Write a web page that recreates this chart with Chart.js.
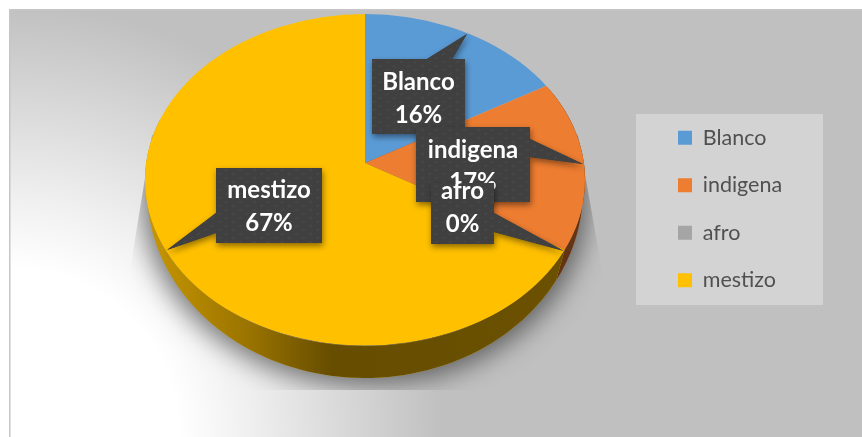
<!DOCTYPE html>
<html><head><meta charset="utf-8">
<style>html,body{margin:0;padding:0;background:#fff}canvas{display:block}</style>
<script src="https://cdn.jsdelivr.net/npm/chart.js@4"></script>
</head><body><canvas id="c" width="862" height="437"></canvas>
<script>
const categories = ['Blanco','indigena','afro','mestizo'];
const values = [16,17,0,67];
const colors = ['#5B9BD5','#ED7D31','#A5A5A5','#FFC000'];

// Layout of the tilted pie, in canvas pixels
const CX = 365, APEX_Y = 163, TOP_CY = 180, RX = 220, RY = 166;
const LOW_CY = 190, LOW_RX = 218, LOW_RY = 188;
const UPPER = {sx:1.05, sy:0.705}, LOWER = {sx:1.05, sy:0.83};
// Callout boxes: x,y,w,h, text baselines l1,l2 and the tail: base point a, tip, base point b
const callouts = [
 {x:372,y:59,w:93,h:75,l1:90,l2:123,a:[427,59],t:[467,34],b:[452,59]},
 {x:416,y:127,w:114,h:75,l1:158,l2:190,a:[530,139],t:[583,164],b:[530,157]},
 {x:431,y:183,w:63,h:61,l1:199,l2:232,a:[494,213],t:[564,251],b:[494,232]},
 {x:216,y:168,w:106,h:75,l1:198,l2:231,a:[216,213],t:[167,250],b:[216,233]}
];

function dots(){
  const p=document.createElement('canvas');p.width=14;p.height=8;
  const g=p.getContext('2d');g.fillStyle='#404040';g.fillRect(0,0,14,8);
  g.strokeStyle='#4c4c4c';g.lineWidth=1;
  g.beginPath();g.moveTo(1,3);g.lineTo(4,1);g.moveTo(8,7);g.lineTo(11,5);g.stroke();
  return p;
}
function rimPoint(a){
  const s=Math.sin(a), c=Math.cos(a), k=s<0?UPPER:LOWER;
  const dx=RX*k.sx*c, dy=RX*k.sy*s;
  const oy=APEX_Y-TOP_CY;
  const A=dx*dx/(RX*RX)+dy*dy/(RY*RY), B=2*dy*oy/(RY*RY), C=oy*oy/(RY*RY)-1;
  const t=(-B+Math.sqrt(B*B-4*A*C))/(2*A);
  return [CX+dx*t, APEX_Y+dy*t];
}
const tilt = {
  id:'tilt',
  beforeDraw(chart){
    const ctx=chart.ctx, W=chart.width, H=chart.height;
    ctx.save();
    ctx.fillStyle='#fff';ctx.fillRect(0,0,W,H);
    const g=ctx.createRadialGradient(10,437,0,10,437,432);
    g.addColorStop(0,'#fff');g.addColorStop(.39,'#fff');g.addColorStop(.56,'#efefef');g.addColorStop(1,'#c0c0c0');
    ctx.fillStyle=g;ctx.fillRect(10,10,W-10,H-10);
    ctx.fillStyle='#c6c6c6';ctx.fillRect(9,9,W-9,1.5);ctx.fillRect(9,9,1.5,H-9);
    ctx.fillStyle='rgba(217,217,217,.75)';ctx.fillRect(636,114,187,191);
    ctx.restore();
  },
  afterLayout(chart){
    const l=chart.legend;
    const w=l.width;
    l.left=652;l.right=652+w;l.top=101;l.bottom=101+l.height;
  },
  beforeDatasetDraw(chart,args){
    const ctx=chart.ctx, meta=args.meta, first=meta.data[0];
    const cx=first.x, cy=first.y;
    // cast shadow only: the caster itself sits off the canvas
    ctx.save();
    ctx.beginPath();
    ctx.moveTo(152,135);ctx.lineTo(130,270);ctx.lineTo(130,390);ctx.lineTo(602,390);ctx.lineTo(602,270);ctx.lineTo(578,135);
    ctx.closePath();ctx.clip();
    ctx.shadowColor='rgba(0,0,0,.5)';ctx.shadowBlur=26;ctx.shadowOffsetX=2000;ctx.shadowOffsetY=4;
    ctx.fillStyle='#000';
    ctx.beginPath();ctx.ellipse(CX-2000,197,222,184,0,0,Math.PI*2);ctx.fill();
    ctx.restore();
    // side wall of each slice
    const lo=-Math.PI/5.5, hi=Math.PI*1.1;
    meta.data.forEach((el,i)=>{
      const a0=Math.max(el.startAngle,lo), a1=Math.min(el.endAngle,hi);
      if(a1<=a0) return;
      const n=80, pts=[];
      for(let j=0;j<=n;j++) pts.push(rimPoint(a0+(a1-a0)*j/n));
      for(let j=n;j>=0;j--){const a=a0+(a1-a0)*j/n;pts.push([CX+LOW_RX*Math.cos(a),LOW_CY+LOW_RY*Math.sin(a)]);}
      const path=()=>{ctx.beginPath();pts.forEach((p,k)=>k?ctx.lineTo(p[0],p[1]):ctx.moveTo(p[0],p[1]));ctx.closePath();};
      ctx.save();
      ctx.fillStyle=colors[i];path();ctx.fill();
      const g=ctx.createLinearGradient(147,0,585,0);
      g.addColorStop(0,'rgba(0,0,0,.22)');g.addColorStop(.235,'rgba(0,0,0,.4)');
      g.addColorStop(.42,'rgba(0,0,0,.6)');g.addColorStop(1,'rgba(0,0,0,.58)');
      ctx.fillStyle=g;path();ctx.fill();
      ctx.restore();
    });
    // top face: upper and lower halves, both cut to the true rim
    [[UPPER,0,APEX_Y+.5],[LOWER,APEX_Y-.5,437]].forEach(([k,y0,y1])=>{
      ctx.save();
      ctx.beginPath();ctx.rect(0,y0,862,y1-y0);ctx.clip();
      ctx.beginPath();ctx.ellipse(CX,TOP_CY,RX,RY,0,0,Math.PI*2);ctx.clip();
      ctx.translate(CX,APEX_Y);ctx.scale(k.sx,k.sy);ctx.translate(-cx,-cy);
      meta.controller.draw();
      ctx.restore();
    });
    return false;
  },
  afterDatasetsDraw(chart){
    const ctx=chart.ctx, total=values.reduce((a,b)=>a+b,0);
    const pat=ctx.createPattern(dots(),'repeat');
    callouts.forEach((c,i)=>{
      ctx.save();
      ctx.shadowColor='rgba(0,0,0,.45)';ctx.shadowBlur=6;ctx.shadowOffsetX=1;ctx.shadowOffsetY=3;
      ctx.fillStyle='#404040';
      ctx.beginPath();ctx.moveTo(c.a[0],c.a[1]);ctx.lineTo(c.t[0],c.t[1]);ctx.lineTo(c.b[0],c.b[1]);ctx.closePath();ctx.fill();
      ctx.fillRect(c.x,c.y,c.w,c.h);
      ctx.shadowColor='transparent';
      ctx.fillStyle=pat;
      ctx.beginPath();ctx.moveTo(c.a[0],c.a[1]);ctx.lineTo(c.t[0],c.t[1]);ctx.lineTo(c.b[0],c.b[1]);ctx.closePath();ctx.fill();
      ctx.fillRect(c.x,c.y,c.w,c.h);
      ctx.fillStyle='#fff';ctx.font='700 24px Lato';ctx.textAlign='center';ctx.textBaseline='alphabetic';
      const mx=c.x+c.w/2;
      ctx.fillText(categories[i],mx,c.l1);
      ctx.fillText(Math.round(values[i]/total*100)+'%',mx,c.l2);
      ctx.restore();
    });
  }
};
new Chart(document.getElementById('c'),{
  type:'pie',
  data:{labels:categories,datasets:[{data:values,backgroundColor:colors,borderWidth:0,radius:RX,clip:false}]},
  options:{
    responsive:false,animation:false,
    layout:{padding:{left:145,right:277,top:0,bottom:0}},
    plugins:{
      tooltip:{enabled:false},
      legend:{display:true,position:'chartArea',align:'start',
        labels:{boxWidth:14,boxHeight:14,padding:26,color:'#505050',font:{family:'Lato',size:21.5}}}
    }
  },
  plugins:[tilt]
});
</script></body></html>
